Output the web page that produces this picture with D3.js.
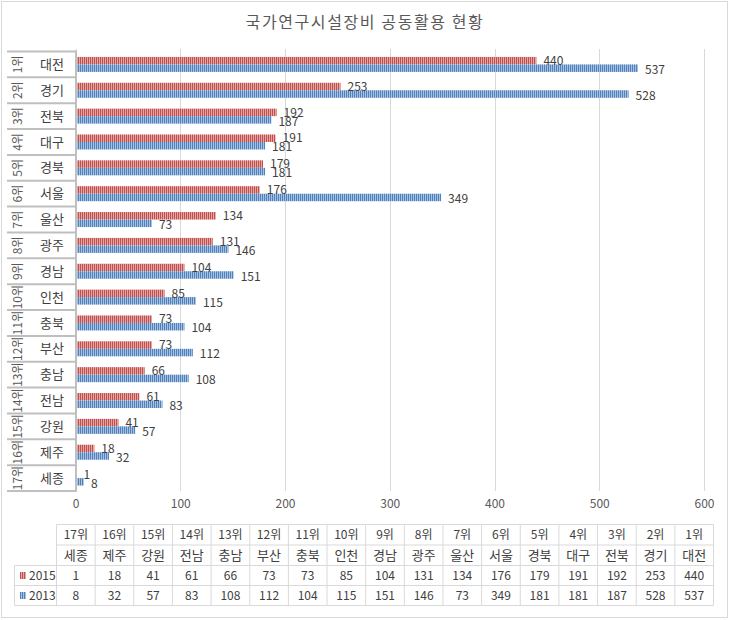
<!DOCTYPE html>
<html><head><meta charset="utf-8">
<script src="https://cdn.jsdelivr.net/npm/d3@7"></script>
<style>
body{margin:0;background:#fff;}
svg text{font-family:"Noto Sans CJK KR","Noto Sans",sans-serif;}
</style></head><body>
<svg id="c" width="729" height="620"></svg>
<script>
const title = "국가연구시설장비 공동활용 현황";
const ranks = ["1위","2위","3위","4위","5위","6위","7위","8위","9위","10위","11위","12위","13위","14위","15위","16위","17위"];
const regions = ["대전","경기","전북","대구","경북","서울","울산","광주","경남","인천","충북","부산","충남","전남","강원","제주","세종"];
const values2015 = [440,253,192,191,179,176,134,131,104,85,73,73,66,61,41,18,1];
const values2013 = [537,528,187,181,181,349,73,146,151,115,104,112,108,83,57,32,8];
const seriesNames = ["2015","2013"];
const xTicks = [0,100,200,300,400,500,600];

const svg = d3.select("#c");
const defs = svg.append("defs");
function stripe(id, dark, light){
  const p = defs.append("pattern").attr("id",id).attr("patternUnits","userSpaceOnUse")
    .attr("width",2).attr("height",4);
  p.append("rect").attr("width",2).attr("height",4).attr("fill",light);
  p.append("rect").attr("width",1).attr("height",4).attr("fill",dark);
}
stripe("p2015","#c0504d","#e4a5a3");
stripe("p2013","#4f81bd","#a9c1e0");
const fills = {"2015":"url(#p2015)","2013":"url(#p2013)"};

// outer border
svg.append("rect").attr("x",1.5).attr("y",1.5).attr("width",726).attr("height",616)
  .attr("fill","#fff").attr("stroke","#d9d9d9");

svg.append("text").attr("x",365).attr("y",28).attr("text-anchor","middle")
  .attr("font-size",16).attr("fill","#595959").attr("letter-spacing",1.6).text(title);

const x = d3.scaleLinear().domain([0,600]).range([75.5,704]);
const y = d3.scaleBand().domain(regions).range([51.5,491]);
const inner = d3.scaleBand().domain(seriesNames).range([y.bandwidth()/2-7.5, y.bandwidth()/2+7.5]);

// gridlines
svg.append("g").selectAll("line").data(xTicks).join("line")
  .attr("x1",d=>Math.round(x(d))+0.5).attr("x2",d=>Math.round(x(d))+0.5)
  .attr("y1",49).attr("y2",491).attr("stroke","#d9d9d9");

// axis labels
const ax = svg.append("g").attr("transform","translate(0,491)")
  .call(d3.axisBottom(x).tickValues(xTicks).tickSize(0).tickPadding(8));
ax.select(".domain").remove();
ax.selectAll("text").attr("font-size",12).attr("fill","#595959")
  .style("font-family",'"Noto Sans CJK KR","Noto Sans",sans-serif');

// bars
const data = regions.map((r,i)=>({r, vals:[{s:"2015",v:values2015[i]},{s:"2013",v:values2013[i]}]}));
const g = svg.append("g");
const rows = g.selectAll("g").data(data).join("g").attr("transform",d=>`translate(0,${y(d.r)})`);
rows.selectAll("rect").data(d=>d.vals).join("rect")
  .attr("x",x(0)).attr("y",d=>inner(d.s)).attr("height",inner.bandwidth())
  .attr("width",d=>x(d.v)-x(0)).attr("fill",d=>fills[d.s]);
rows.selectAll("text").data(d=>d.vals).join("text")
  .attr("x",d=>x(d.v)+7).attr("y",d=>inner(d.s)+inner.bandwidth()/2+(d.s==="2013"?1.5:0))
  .attr("dy","0.35em").attr("font-size",12).attr("fill","#404040").text(d=>d.v);

// left label boxes
const lb = svg.append("g");
const bounds = regions.map(r=>y(r)).concat([y.range()[1]]);
lb.selectAll("line.h").data(bounds).join("line").attr("class","h")
  .attr("x1",7).attr("x2",76).attr("y1",d=>d).attr("y2",d=>d)
  .attr("stroke","#bfbfbf").attr("stroke-width",2);
lb.append("line").attr("x1",76).attr("x2",76).attr("y1",y.range()[0]-1).attr("y2",y.range()[1]+1)
  .attr("stroke","#bfbfbf").attr("stroke-width",2);
lb.selectAll("text.rk").data(regions).join("text").attr("class","rk")
  .attr("transform",(d,i)=>`translate(18,${y(d)+y.bandwidth()/2}) rotate(-90)`)
  .attr("text-anchor","middle").attr("dy","0.35em").attr("font-size",12).attr("fill","#595959")
  .text((d,i)=>ranks[i]);
lb.selectAll("text.nm").data(regions).join("text").attr("class","nm")
  .attr("x",52).attr("y",d=>y(d)+y.bandwidth()/2).attr("dy","0.35em")
  .attr("text-anchor","middle").attr("font-size",13).attr("fill","#404040").text(d=>d);

// data table
const cols = regions.slice().reverse();
const colRanks = ranks.slice().reverse();
const tx = d3.scaleBand().domain(cols).range([56.5,713.5]);
const rowY = [524.5,545,565.5,585.5,605.5];
const tg = svg.append("g");
const tStroke = "#d9d9d9";
// horizontal lines
rowY.forEach((yy,i)=>{
  tg.append("line").attr("x1", i>=2?14.5:56.5).attr("x2",713.5).attr("y1",yy).attr("y2",yy).attr("stroke",tStroke);
});
// vertical lines
cols.map(c=>tx(c)).concat([713.5]).forEach(xx=>{
  tg.append("line").attr("x1",xx).attr("x2",xx).attr("y1",rowY[0]).attr("y2",rowY[4]).attr("stroke",tStroke);
});
tg.append("line").attr("x1",14.5).attr("x2",14.5).attr("y1",rowY[2]).attr("y2",rowY[4]).attr("stroke",tStroke);

const v2015r = values2015.slice().reverse();
const v2013r = values2013.slice().reverse();
const tableRows = [colRanks, cols, v2015r, v2013r];
tableRows.forEach((arr,ri)=>{
  tg.selectAll(null).data(arr).join("text")
    .attr("x",(d,i)=>tx(cols[i])+tx.bandwidth()/2)
    .attr("y",(rowY[ri]+rowY[ri+1])/2).attr("dy","0.35em")
    .attr("text-anchor","middle").attr("font-size", ri===1?13:12).attr("fill","#404040").text(d=>d);
});
// legend keys
seriesNames.forEach((s,i)=>{
  const cy = (rowY[i+2]+rowY[i+3])/2;
  tg.append("rect").attr("x",20).attr("y",cy-3.5).attr("width",6).attr("height",7).attr("fill",fills[s]);
  tg.append("text").attr("x",29).attr("y",cy).attr("dy","0.35em").attr("font-size",12).attr("fill","#404040").text(s);
});
</script></body></html>
